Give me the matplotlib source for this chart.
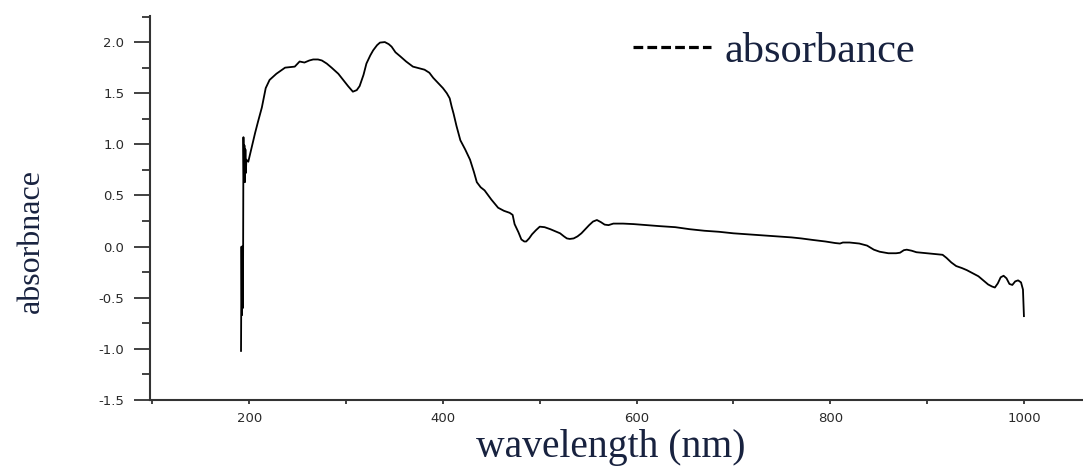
import matplotlib
matplotlib.use("Agg")
import matplotlib.pyplot as plt
from matplotlib.lines import Line2D
from matplotlib.ticker import MultipleLocator

wavelength = [191.5, 192, 192.5, 193, 193.5, 194, 194.5, 195, 195.5, 196, 196.5, 197,
              199, 202, 206, 209, 213, 217, 221, 228, 237, 247, 252, 257, 262, 266, 271,
              275, 280, 285, 292, 297, 302, 307, 311, 314, 318, 321, 325, 328, 332, 335,
              340, 344, 347, 351, 356, 362, 369, 375, 381, 386, 390, 395, 400, 404, 407,
              409, 411, 414, 418, 423, 428, 432, 435, 439, 443, 450, 457, 463, 469, 472,
              474, 478, 481, 484, 486, 489, 492, 496, 500, 505, 511, 516, 521, 525, 528,
              531, 535, 539, 543, 547, 551, 555, 559, 563, 567, 571, 576, 586, 597, 610,
              624, 640, 655, 670, 685, 700, 715, 730, 745, 760, 770, 782, 795, 805, 810,
              813, 820, 830, 838, 845, 851, 860, 868, 872, 876, 879, 884, 889, 900, 910,
              916, 920, 925, 930, 936, 941, 947, 953, 958, 963, 967, 970, 973, 976, 979,
              982, 985, 988, 991, 994, 997, 999, 1000]
absorbance = [-1.02, 0.0, -0.67, 0.0, -0.60, 1.07, 0.65, 0.99, 0.63, 0.95, 0.72, 0.85,
              0.83, 0.95, 1.11, 1.22, 1.36, 1.55, 1.63, 1.69, 1.75, 1.76, 1.81, 1.80, 1.82,
              1.83, 1.83, 1.82, 1.79, 1.75, 1.69, 1.63, 1.57, 1.515, 1.53, 1.57, 1.68, 1.79,
              1.87, 1.92, 1.97, 1.995, 2.00, 1.98, 1.955, 1.90, 1.86, 1.81, 1.76, 1.745,
              1.73, 1.70, 1.65, 1.60, 1.55, 1.50, 1.45, 1.37, 1.30, 1.18, 1.04, 0.95, 0.85,
              0.73, 0.63, 0.58, 0.55, 0.46, 0.38, 0.35, 0.33, 0.31, 0.22, 0.14, 0.07, 0.05,
              0.05, 0.08, 0.12, 0.16, 0.195, 0.19, 0.17, 0.15, 0.13, 0.10, 0.08, 0.075, 0.08,
              0.10, 0.13, 0.17, 0.21, 0.245, 0.26, 0.24, 0.215, 0.21, 0.225, 0.225, 0.22,
              0.21, 0.20, 0.19, 0.17, 0.155, 0.145, 0.13, 0.12, 0.11, 0.10, 0.09, 0.08,
              0.065, 0.05, 0.035, 0.03, 0.04, 0.04, 0.03, 0.01, -0.03, -0.05, -0.065, -0.065,
              -0.06, -0.035, -0.03, -0.04, -0.055, -0.065, -0.075, -0.08, -0.11, -0.155,
              -0.19, -0.21, -0.23, -0.26, -0.29, -0.33, -0.37, -0.39, -0.40, -0.36, -0.30,
              -0.285, -0.31, -0.365, -0.375, -0.34, -0.33, -0.35, -0.42, -0.68]

x_ticks = [200, 400, 600, 800, 1000]
y_ticks = [-1.5, -1.0, -0.5, 0.0, 0.5, 1.0, 1.5, 2.0]
x_label = "wavelength (nm)"
y_label = "absorbnace"
legend_label = "absorbance"

plt.rcParams['lines.scale_dashes'] = False
text_color = '#18223f'
spine_color = '#333333'

fig = plt.figure(figsize=(10.83, 4.68), dpi=100)
ax = fig.add_axes([150/1083, 68/468, 1 - 150/1083, 384/468])

ax.plot(wavelength, absorbance, color='black', lw=1.3)

ax.set_xlim(97.5, 1061)
ax.set_ylim(-1.5, 2.255)
ax.set_xticks(x_ticks)
ax.set_yticks(y_ticks)
ax.set_yticklabels([f"{v:.1f}" for v in y_ticks])
ax.xaxis.set_minor_locator(MultipleLocator(100))
ax.yaxis.set_minor_locator(MultipleLocator(0.25))

for s in ['top', 'right']:
    ax.spines[s].set_visible(False)
for s in ['left', 'bottom']:
    ax.spines[s].set_linewidth(1.5)
    ax.spines[s].set_color(spine_color)

ax.tick_params(axis='y', which='major', direction='out', length=11.5, width=1.3,
               color=spine_color, pad=7, labelcolor='#2a2a2a', labelsize=9.5)
ax.tick_params(axis='y', which='minor', direction='out', length=5.8, width=1.3,
               color=spine_color)
ax.tick_params(axis='x', which='major', direction='out', length=3, width=1.3,
               color=spine_color, pad=6, labelcolor='#2a2a2a', labelsize=9.5)
ax.tick_params(axis='x', which='minor', direction='out', length=3, width=1.3,
               color=spine_color)
for lab in ax.get_xticklabels() + ax.get_yticklabels():
    lab.set_family('DejaVu Sans')

fig.text(611/1083, 1 - 457/468, x_label, ha='center', va='baseline',
         family='Liberation Serif', fontsize=28.5, color=text_color)
fig.text(31/1083, 1 - 241/468, y_label, ha='center', va='center', rotation=90,
         family='Liberation Serif', fontsize=23, color=text_color)

handle = Line2D([], [], color='black', lw=2.3, linestyle=(0, (7, 3)))
leg = ax.legend([handle], [legend_label], loc='upper left',
                bbox_to_anchor=(633/1083, 1 - 32/468), bbox_transform=fig.transFigure,
                frameon=False, borderpad=0, borderaxespad=0, handlelength=1.85,
                handletextpad=0.32,
                prop=dict(family='Liberation Serif', size=30.5))
for t in leg.get_texts():
    t.set_color(text_color)

fig.savefig('out.png', dpi=100)
